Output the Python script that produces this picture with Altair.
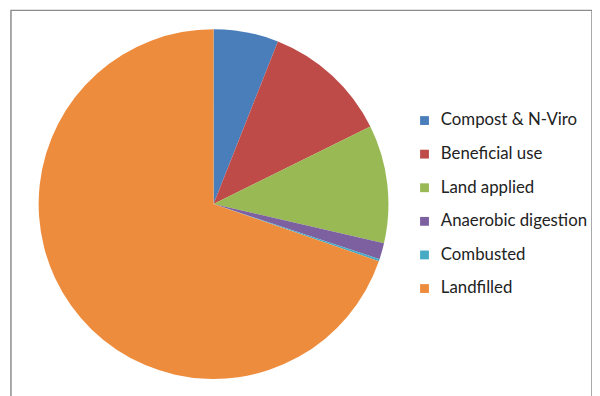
import altair as alt
import pandas as pd

categories = ["Compost & N-Viro", "Beneficial use", "Land applied",
              "Anaerobic digestion", "Combusted", "Landfilled"]
shares = [6.0, 11.7, 10.9, 1.5, 0.2, 69.7]
colors = ["#4A7EBB", "#BE4B48", "#98B954", "#7D60A0", "#46AAC5", "#EE8C3E"]

df = pd.DataFrame({"category": categories, "share": shares,
                   "order": list(range(len(categories)))})

chart = alt.Chart(df).mark_arc(stroke=None).encode(
    theta=alt.Theta("share:Q", stack=True),
    order=alt.Order("order:Q"),
    color=alt.Color("category:N",
                    scale=alt.Scale(domain=categories, range=colors),
                    sort=categories,
                    legend=alt.Legend(title=None, orient="none",
                                      legendX=410, legendY=103,
                                      symbolType="square", symbolSize=80,
                                      symbolStrokeWidth=0,
                                      labelFont="Lato", labelFontSize=17,
                                      labelColor="#222222",
                                      labelOffset=8, rowPadding=16)),
    x=alt.value(205),
    y=alt.value(196),
    radius=alt.value(177),
).properties(
    width=588, height=400,
    padding={"left": 3, "top": 0, "right": 0, "bottom": 0},
    autosize=alt.AutoSizeParams(type="none"),
).configure_view(
    stroke="#8C8C8C", strokeWidth=1.5
)

chart.save("out.html", embed_options={"renderer": "svg", "actions": False})
